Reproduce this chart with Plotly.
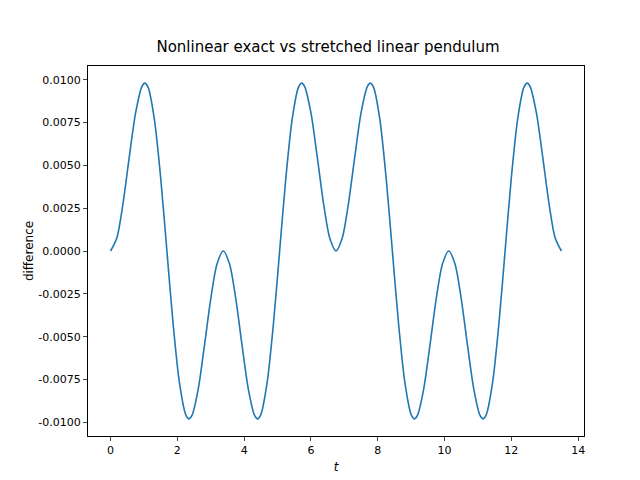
import plotly.graph_objects as go

t = [0.0, 0.1875, 0.375, 0.5625, 0.75, 0.9375, 1.026, 1.125, 1.3125, 1.5, 1.6875, 1.875, 2.0625, 2.25, 2.349, 2.4375, 2.625, 2.8125, 3.0, 3.1875, 3.375,
     3.5625, 3.75, 3.9375, 4.125, 4.3125, 4.401, 4.5, 4.6875, 4.875, 5.0625, 5.25, 5.4375, 5.625, 5.724, 5.8125, 6.0, 6.1875, 6.375, 6.5625, 6.75,
     6.9375, 7.125, 7.3125, 7.5, 7.6875, 7.776, 7.875, 8.0625, 8.25, 8.4375, 8.625, 8.8125, 9.0, 9.099, 9.1875, 9.375, 9.5625, 9.75, 9.9375, 10.125,
     10.3125, 10.5, 10.6875, 10.875, 11.0625, 11.151, 11.25, 11.4375, 11.625, 11.8125, 12.0, 12.1875, 12.375, 12.474, 12.5625, 12.75, 12.9375, 13.125, 13.3125, 13.5]
diff = [0, .00076, .00280, .00551, .00806, .00960, .00980, .00955, .00769, .00429, 0, -.00429, -.00769, -.00955, -.00980, -.00960, -.00806, -.00551, -.00280, -.00076, 0,
        -.00076, -.00280, -.00551, -.00806, -.00960, -.00980, -.00955, -.00769, -.00429, 0, .00429, .00769, .00955, .00980, .00960, .00806, .00551, .00280, .00076, 0,
        .00076, .00280, .00551, .00806, .00960, .00980, .00955, .00769, .00429, 0, -.00429, -.00769, -.00955, -.00980, -.00960, -.00806, -.00551, -.00280, -.00076, 0,
        -.00076, -.00280, -.00551, -.00806, -.00960, -.00980, -.00955, -.00769, -.00429, 0, .00429, .00769, .00955, .00980, .00960, .00806, .00551, .00280, .00076, 0]
yticks = [-0.01, -0.0075, -0.005, -0.0025, 0, 0.0025, 0.005, 0.0075, 0.01]

fig = go.Figure(go.Scatter(x=t, y=diff, mode="lines", line=dict(color="#1f77b4", width=1.6, shape="spline", smoothing=0.8)))
ax = dict(showline=True, linecolor="black", mirror=True, ticks="outside", ticklen=4, showgrid=False, zeroline=False,
          tickfont=dict(size=11, color="black"))
fig.update_layout(
    width=640, height=480, plot_bgcolor="white", paper_bgcolor="white",
    margin=dict(l=80, r=64, t=58, b=52),
    font=dict(family="DejaVu Sans", color="black"),
    title=dict(text="Nonlinear exact vs stretched linear pendulum", x=0.5, xanchor="center", y=0.93, font=dict(size=15)),
    xaxis=dict(ax, range=[-0.675, 14.175], tickvals=[0, 2, 4, 6, 8, 10, 12, 14],
               title=dict(text="<i>t</i>", font=dict(size=12), standoff=6)),
    yaxis=dict(ax, range=[-0.0108, 0.0108], tickvals=yticks, ticktext=[f"{v:.4f}" for v in yticks],
               title=dict(text="difference", font=dict(size=12), standoff=2)),
)
fig.write_html("out.html")
